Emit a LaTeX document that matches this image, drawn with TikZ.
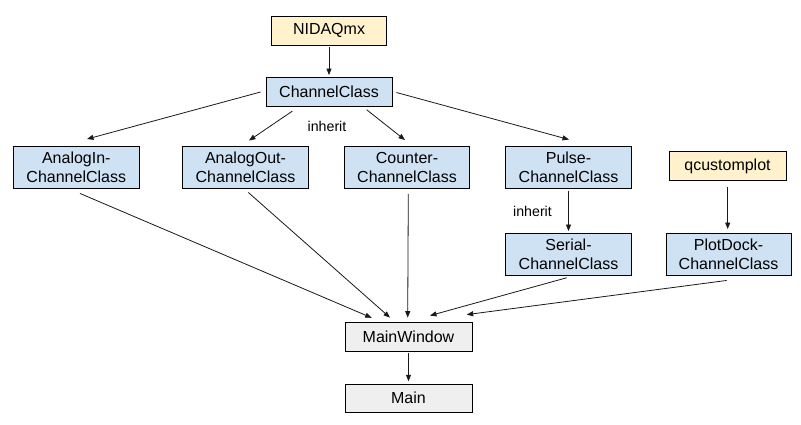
\documentclass[tikz,border=0pt]{standalone}
\usepackage{fontspec}
\setmainfont{Liberation Sans}
\usetikzlibrary{calc,arrows.meta}
\definecolor{cblue}{HTML}{CFE2F3}
\definecolor{cyell}{HTML}{FFF2CC}
\definecolor{cgray}{HTML}{EFEFEF}
\begin{document}
\begin{tikzpicture}[x=1pt,y=-1pt,
  box/.style={draw=black,line width=0.9pt,inner sep=0pt,align=center,
    font=\fontsize{16}{18.6}\selectfont},
  bluebox/.style={box,fill=cblue,minimum width=126pt,minimum height=42pt},
  yellbox/.style={box,fill=cyell,minimum height=29pt},
  graybox/.style={box,fill=cgray,minimum width=127pt,minimum height=28.5pt},
  conn/.style={line width=0.8pt,draw=black!90,-{Triangle[length=6.5pt,width=5pt]}},
  lbl/.style={font=\fontsize{14.2}{16}\selectfont,inner sep=0pt}]
\fill[white] (0,0) rectangle (801,424);
\useasboundingbox (0,0) rectangle (801,424);

\node[yellbox,minimum width=115pt] (nid) at (329,30.5) {NIDAQmx};
\node[bluebox,minimum height=29pt] (cc) at (329,92) {ChannelClass};
\node[bluebox] (ai) at (76.3,167.5) {AnalogIn-\\ChannelClass};
\node[bluebox] (ao) at (245.5,167.5) {AnalogOut-\\ChannelClass};
\node[bluebox,minimum width=125pt] (co) at (407,167.5) {Counter-\\ChannelClass};
\node[bluebox] (pu) at (568.5,167.5) {Pulse-\\ChannelClass};
\node[bluebox] (se) at (568.5,254.5) {Serial-\\ChannelClass};
\node[yellbox,minimum width=117pt,minimum height=28.5pt] (qc) at (727.5,166) {qcustomplot};
\node[bluebox,minimum width=125pt] (pd) at (728.5,254.5) {PlotDock-\\ChannelClass};
\node[graybox] (mw) at (408.5,337) {MainWindow};
\node[graybox,minimum height=28pt] (mn) at (408.5,398) {Main};

\node[lbl] (inh1) at (327,126) {inherit};
\node[lbl] (inh2) at (532.5,211.5) {inherit};

\draw[conn] ($(nid.south)+(0,1.5)$) -- ($(cc.north)+(0,-2)$);
\draw[conn] ($(cc.west)+(-5,0)$) -- ($(ai.north)+(10.7,-7)$);
\draw[conn] ($(cc.south)+(-36.7,4.2)$) -- ($(ao.north)+(3.5,-5.5)$);
\draw[conn] ($(cc.south)+(37.7,2.8)$) -- ($(co.north)+(-2,-6)$);
\draw[conn] ($(cc.east)+(4,0.5)$) -- ($(pu.north)+(0.5,-6.5)$);
\draw[conn] ($(pu.south)+(0,2)$) -- ($(se.north)+(0,-2)$);
\draw[conn] ($(qc.south)+(0.2,6.5)$) -- ($(pd.north)+(-0.8,-4)$);
\draw[conn] ($(ai.south)+(3.7,4.5)$) -- ($(mw.north)+(-36.8,-4.5)$);
\draw[conn] ($(ao.south)+(2.8,3.5)$) -- ($(mw.north)+(-18.5,-4.7)$);
\draw[conn] ($(co.south)+(1.3,4.8)$) -- ($(mw.north)+(-0.8,-4.7)$);
\draw[conn] ($(se.south)+(-1.8,1.8)$) -- ($(mw.north)+(21.5,-6.7)$);
\draw[conn] ($(pd.south)+(-1.8,4.5)$) -- ($(mw.north)+(58.2,-7.7)$);
\draw[conn] ($(mw.south)+(0,1.3)$) -- ($(mn.north)+(0,-2.3)$);
\end{tikzpicture}
\end{document}
